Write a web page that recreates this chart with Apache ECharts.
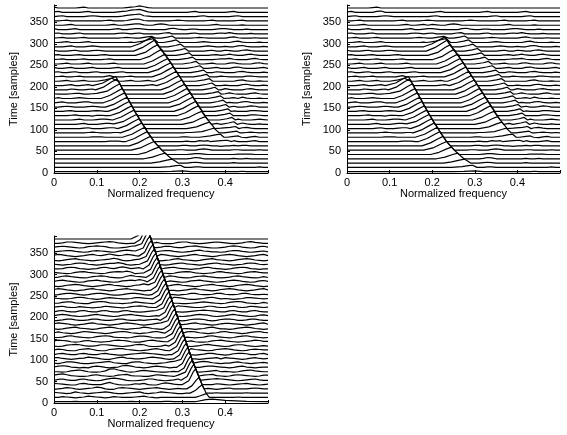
<!DOCTYPE html>
<html>
<head>
<meta charset="utf-8">
<script src="https://cdn.jsdelivr.net/npm/echarts@6/dist/echarts.min.js"></script>
<style>
  html, body { margin: 0; padding: 0; background: #fff; }
  #chart { width: 567px; height: 435px; }
</style>
</head>
<body>
<div id="chart"></div>
<script>
// trace baselines (samples), bottom to top
const traceStarts = [0, 10, 20, 30, 40, 50, 60, 70, 80, 90, 100, 110, 120, 130, 140, 150, 160, 170, 180, 190,
  200, 210, 220, 230, 240, 250, 260, 270, 280, 290, 300, 310, 320, 330, 340, 350, 360, 370, 380]
const xTicks = [0, 0.1, 0.2, 0.3, 0.4]
const yTicks = [0, 50, 100, 150, 200, 250, 300, 350]
const FREQ_STEP = 0.01

// background of each trace, one char per 0.01 of frequency (base 36, in samples above the baseline)
const noiseTop1 = [
  '3333333333 3333333333 3333333333 3333333333 3333433333 3',
  '3333333333 3333333333 3333333333 3334433333 3333333343 3',
  '3333333333 3333333333 3333333333 3345433333 3343333333 3',
  '3333333333 3333333333 3333333333 3346533333 3343343333 3',
  '3333333333 3333333333 3333333333 3345543333 3334444333 3',
  '3333333333 3333333333 3333333334 4333565333 3344333343 3',
  '3333333333 3333333333 3333333333 4433454332 3343443333 3',
  '3333333333 3334443333 3333333333 3433545332 3453334533 3',
  '3333333334 4433333333 3333333333 4433443323 3453324533 3',
  '3333333345 4333444333 3333333333 3443333354 3223345434 3',
  '3333333453 3345543333 3333333333 3344333454 3224564333 3',
  '3333334533 3455433333 3333333333 3434333453 2335643343 3',
  '3333345333 4554334333 3333333333 3343333332 3345333454 3',
  '3333453332 4433455333 3333333333 3333333333 3453335543 3',
  '3334533334 5433553333 3333333333 3333333333 3543335543 3',
  '3345433345 4335433333 3333333333 3333333333 3453346533 3',
  '3453334553 3354333333 3333333333 3333333333 5433564334 3',
  '3533345433 3543333333 3333333333 3333333333 3453643343 3',
  '4333455334 5433333333 3333333333 3333333333 4643335643 3',
  '3333543345 4333333333 3333333333 3333333333 6433356433 3',
  '3334533453 3333455333 3345333333 3333333333 4333564334 3',
  '3345334533 3334533453 3453333333 3333333333 3335643343 3',
  '3453345333 3345333453 3333333333 3333333335 4333355433 3',
  '4533453334 5333345333 3333333333 3333333354 3335643334 3',
  '5334533345 3333453333 3333333333 3333333453 3356433345 3',
  '3345333453 3334533333 3333333333 3333334533 3564333564 3',
  '3453334533 3345333333 3333333333 3333333345 5643335643 3',
  '4533345333 3453333333 3333333333 3333333453 4643356433 3',
  '5333453334 5433333333 3333333333 3333334533 5433564333 3',
  '3334533345 4333333333 3333333333 3333345433 4335643334 3',
  '3345333453 3333333345 4333333333 3333454333 3356433343 3',
  '3453334533 3333334543 3333333333 3334543333 3564333433 3',
  '4533345333 3333345434 5333333333 3345333345 4643334333 3',
  '5333453333 3333453345 5433333564 3344333345 5433343333 3',
  '3334533333 3334533456 6433565333 3333333453 3333433333 3',
  '3345333333 3345333467 7433333345 4333334533 3334533333 3',
  '3453333345 4333334678 9543333333 3333453333 3345333333 3',
  '4533333453 3333345689 a743333333 3345333333 3453333333 3',
  '5333334533 3333333456 8643333333 3333333333 3333333333 3'
]

const noiseTop2 = [
  '3333333333 3333333333 3333333333 3333333333 3333433333 3',
  '3333333333 3333333333 3333333333 3334433333 3333333343 3',
  '3333333333 3333333333 3333333333 3345433333 3343333333 3',
  '3333333333 3333333333 3333333333 3346533333 3343343333 3',
  '3333333333 3333333333 3333333333 3345543333 3334444333 3',
  '3333333333 3333333333 3333333334 4333565333 3344333343 3',
  '3333333333 3333333333 3333333333 4433454332 3343443333 3',
  '3333333333 3334443333 3333333333 3433545332 3453334533 3',
  '3333333334 4433333333 3333333333 4433443323 3453324533 3',
  '3333333345 4333444333 3333333333 3443333354 3223345434 3',
  '3333333453 3345543333 3333333333 3344333454 3224564333 3',
  '3333334533 3455433333 3333333333 3434333453 2335643343 3',
  '3333345333 4554334333 3333333333 3343333332 3345333454 3',
  '3333453332 4433455333 3333333333 3333333333 3453335543 3',
  '3334533334 5433553333 3333333333 3333333333 3543335543 3',
  '3345433345 4335433333 3333333333 3333333333 3453346533 3',
  '3453334553 3354333333 3333333333 3333333333 5433564334 3',
  '3533345433 3543333333 3333333333 3333333333 3453643343 3',
  '4333455334 5433333333 3333333333 3333333333 4643335643 3',
  '3333543345 4333333333 3333333333 3333333333 6433356433 3',
  '3334533453 3333455333 3345333333 3333333333 4333564334 3',
  '3345334533 3334533453 3453333333 3333333333 3335643343 3',
  '3453345333 3345333453 3333333333 3333333335 4333355433 3',
  '4533453334 5333345333 3333333333 3333333354 3335643334 3',
  '5334533345 3333453333 3333333333 3333333453 3356433345 3',
  '3345333453 3334533333 3333333333 3333334533 3564333564 3',
  '3453334533 3345333333 3333333333 3333333345 5643335643 3',
  '4533345333 3453333333 3333333333 3333333453 4643356433 3',
  '5333453334 5433333333 3333333333 3333334533 5433564333 3',
  '3334533345 4333333333 3333333333 3333345433 4335643334 3',
  '3345333453 3333333345 4333333333 3333454333 3356433343 3',
  '3453334533 3333334543 3333333333 3334543333 3564333433 3',
  '4533345333 3333345434 5333333333 3345333345 4643334333 3',
  '5333453333 3333453345 5433333564 3344333345 5433343333 3',
  '3334533333 3334533453 5433565333 3333333453 3333433333 3',
  '3345333333 3345333345 4333333345 4333334533 3334533333 3',
  '3453333345 4333333333 4533333333 3333453333 3345333333 3',
  '4533333563 3333333333 3453333333 3345333333 3453333333 3',
  '3333334533 3333333333 3333333333 3333333333 3333333333 3'
]

const noiseBottom = [
  '3333343333 3333333343 3333334433 3333333333 3333333333 3',
  '3354323465 4323543334 5643233333 3333333333 3334333333 3',
  '5432364323 4565322345 6323465432 2343333343 3333343333 3',
  '2346532345 7632256543 2345643234 3543454323 4533334543 3',
  '6543225643 3368532235 4632257643 3356323354 3234564323 4',
  '3564335643 2357875322 3466432346 6432345676 5432345643 3',
  '5786432235 6432356743 3224654325 6433256743 2356543235 5',
  '3323567532 2359a75323 5654322345 6643234563 4323567543 3',
  '4676432325 6532347864 3235654234 5643356654 3235643234 4',
  '3246653223 4567432256 6432234675 4325676432 3356432345 3',
  '6643234576 5322467543 3467653234 5653234563 6543235643 4',
  '3564335643 3564322345 6765432346 6432346643 2356653356 3',
  '4653225675 3225677543 2346753223 4675432356 7643235654 4',
  '3235676433 4665432346 7632235675 4323467543 2356643234 3',
  '5765323564 3234676532 2467543234 6753223567 5432345764 4',
  '3346754323 5676433235 6653223567 6432346754 3235675432 3',
  '4643235765 4323567643 2346753224 5676432346 7543235675 4',
  '3235675432 3567643234 5764325677 6432346753 3235676432 3',
  '5765323467 5432346765 3234676432 3467543235 6654323467 4',
  '2346643346 6433466433 4345676543 2356653235 6653346643 3',
  '4676432346 7543235675 4323467643 2346765323 4675432356 4',
  '3564335643 3564335643 2345676543 2345676543 3564335643 3',
  '4564335432 3465432356 7643223567 6543346643 3564346543 4',
  '3356643225 6764332346 5432467653 2234565432 3567643235 3',
  '5433467643 2356543346 6543235676 5322346753 4323466543 4',
  '2356653235 6653223566 5323566532 3466433466 4334664334 3',
  '5764323467 5432356754 3235676432 3467543235 6764323467 4',
  '3235676432 3467543235 6864323467 5432356754 3235676432 3',
  '4675432356 7543235676 8633467543 2356754323 4676432356 4',
  '3467543235 6764323686 5432356764 3235675432 3467543235 3',
  '5432356754 3235676862 3467543235 6764323467 5432356754 4',
  '3346764323 4675468645 6543235675 4323467543 2356764323 3',
  '4323467643 2356686323 4676432356 7543235675 4323467643 4',
  '3235675432 3456863235 6764323467 5432356754 3235676432 3',
  '5764323467 5468645764 3235676432 3467543235 6764323467 4',
  '3456643235 6543246765 4323356643 2346754332 3566432345 3',
  '4565432356 7653223467 5432346643 3567543223 4676432356 4',
  '3346654323 4567643234 5676532235 6643234565 4323467543 3',
  '3333333333 3333333333 3333333333 3333333333 3333333333 3'
]

// chirp peaks: [baseline, f, value, f, value, ...]
const ridgeA = [
  [0, .245, 3, .275, 4, .30, 5, .32, 3],
  [10, .245, 3, .27, 5, .285, 7, .295, 8, .305, 3],
  [20, .226, 3, .246, 6, .264, 10, .276, 12, .284, 7.5, .288, 3],
  [30, .21, 3, .23, 7, .248, 13, .26, 16, .267, 9.5, .2745, 3],
  [40, .196, 3, .216, 8, .234, 16, .2455, 20, .2535, 11.5, .263, 3],
  [50, .184, 3, .204, 9, .222, 18, .234, 23, .243, 13, .252, 3],
  [60, .176, 3, .196, 10, .214, 19.5, .2255, 25, .233, 14, .2425, 3],
  [70, .168, 3, .188, 10, .206, 20, .218, 26, .226, 14.5, .234, 3],
  [80, .162, 3, .182, 10, .200, 20, .212, 26, .219, 14.5, .227, 3],
  [90, .155, 3, .175, 10, .193, 20, .205, 26, .213, 14.5, .220, 3],
  [100, .149, 3, .169, 10, .187, 20, .199, 26, .206, 14.5, .214, 3],
  [110, .143, 3, .163, 10, .181, 20, .193, 26, .200, 14.5, .207, 3],
  [120, .137, 3, .157, 10, .175, 20, .187, 26, .194, 14.5, .201, 3],
  [130, .132, 3, .152, 10, .170, 20, .182, 26, .188, 14.5, .195, 3],
  [140, .126, 3, .146, 10, .164, 20, .176, 26, .1825, 14.5, .189, 3],
  [150, .121, 3, .141, 10, .159, 20, .171, 26, .177, 14.5, .183, 3],
  [160, .115, 3, .135, 10, .153, 20, .165, 26, .1715, 14.5, .178, 3],
  [170, .110, 3, .130, 10, .148, 20, .160, 26, .166, 14.5, .172, 3],
  [180, .104, 3, .124, 10, .142, 21, .154, 27, .160, 15, .167, 3],
  [190, .097, 3, .117, 10, .135, 22, .147, 28, .1545, 15.5, .161, 3],
  [200, .094, 3, .114, 9, .132, 19, .144, 24, .150, 13.5, .156, 3],
  [210, .10, 3, .12, 6, .135, 10, .145, 5, .152, 3],
  [220, .115, 3, .13, 6, .14, 3]
]

const ridgeB = [
  [70, .365, 3, .39, 5, .405, 6, .415, 3],
  [80, .34, 3, .365, 6, .38, 9, .389, 10, .397, 3],
  [90, .324, 3, .346, 6, .363, 11, .374, 14, .38, 8.5, .386, 3],
  [100, .313, 3, .333, 7, .351, 14, .363, 18, .37, 10.5, .376, 3],
  [110, .304, 3, .324, 8, .342, 16.5, .354, 21, .3605, 12, .368, 3],
  [120, .295, 3, .315, 9, .333, 18, .345, 23, .352, 13, .36, 3],
  [130, .287, 3, .307, 10, .325, 20, .337, 26, .345, 14.5, .353, 3],
  [140, .281, 3, .301, 10, .319, 20, .331, 26, .339, 14.5, .347, 3],
  [150, .274, 3, .294, 10, .312, 20, .324, 26, .332, 14.5, .340, 3],
  [160, .268, 3, .288, 10, .306, 20, .318, 26, .326, 14.5, .334, 3],
  [170, .261, 3, .281, 10, .299, 20, .311, 26, .319, 14.5, .327, 3],
  [180, .255, 3, .275, 10, .293, 20, .305, 26, .313, 14.5, .321, 3],
  [190, .249, 3, .269, 10, .287, 20, .299, 26, .306, 14.5, .314, 3],
  [200, .242, 3, .262, 10, .280, 20, .292, 26, .2995, 14.5, .307, 3],
  [210, .236, 3, .256, 10, .274, 20, .286, 26, .293, 14.5, .3005, 3],
  [220, .229, 3, .249, 10, .267, 20, .279, 26, .2865, 14.5, .294, 3],
  [230, .223, 3, .243, 10, .261, 20, .273, 26, .280, 14.5, .2875, 3],
  [240, .216, 3, .236, 10, .254, 20, .266, 26, .2735, 14.5, .281, 3],
  [250, .210, 3, .230, 10, .248, 20, .260, 26, .267, 14.5, .2745, 3],
  [260, .202, 3, .222, 10, .240, 21, .2515, 27, .259, 15, .267, 3],
  [270, .193, 3, .213, 10, .231, 22, .243, 28, .2515, 15.5, .2595, 3],
  [280, .186, 3, .206, 11, .224, 22, .2355, 29, .2435, 16, .252, 3],
  [290, .180, 3, .200, 10, .218, 20, .230, 26, .237, 14.5, .2445, 3],
  [300, .188, 3, .208, 6, .223, 10, .233, 12, .243, 3],
  [310, .203, 3, .218, 6, .228, 7, .238, 3]
]

const ridgeC = [
  [80, .405, 3, .42, 5, .4305, 6, .438, 3],
  [90, .397, 3, .415, 5.5, .427, 7, .435, 3],
  [100, .394, 3, .412, 6, .4237, 8, .432, 3],
  [110, .39, 3, .408, 6, .42, 9, .428, 3],
  [120, .386, 3, .404, 6, .416, 9, .424, 3],
  [130, .381, 3, .399, 6, .411, 9, .419, 3],
  [140, .376, 3, .394, 6, .406, 9, .414, 3],
  [150, .371, 3, .389, 6, .401, 9, .409, 3],
  [160, .365, 3, .383, 6, .395, 9, .403, 3],
  [170, .359, 3, .377, 6, .389, 9, .397, 3],
  [180, .353, 3, .371, 6, .383, 9, .391, 3],
  [190, .346, 3, .364, 6, .376, 9, .384, 3],
  [200, .339, 3, .357, 6, .369, 9, .377, 3],
  [210, .333, 3, .351, 6, .363, 9, .371, 3],
  [220, .326, 3, .344, 6, .356, 9, .364, 3],
  [230, .319, 3, .337, 6, .349, 9, .357, 3],
  [240, .31, 3, .328, 6, .3405, 9, .349, 3],
  [250, .302, 3, .32, 6, .332, 9, .34, 3],
  [260, .294, 3, .312, 6, .3236, 9, .332, 3],
  [270, .285, 3, .303, 6, .315, 9, .323, 3],
  [280, .276, 3, .294, 6, .306, 9, .314, 3],
  [290, .266, 3, .284, 6, .2957, 9, .304, 3],
  [300, .256, 3, .274, 6, .2855, 9, .294, 3],
  [310, .25, 3, .265, 5.5, .276, 8, .284, 3],
  [320, .245, 3, .258, 5, .268, 6, .276, 3]
]

const ridgeD = [
  [0, .33, 3, .355, 8, .37, 9, .40, 6, .45, 4, .5, 3],
  [10, .33, 3, .342, 7, .356, 12, .363, 3],
  [20, .318, 3, .33, 9, .34, 18, .346, 22, .351, 12.5, .3555, 3],
  [30, .31, 3, .322, 10, .333, 24, .339, 30, .3445, 16.5, .3505, 3],
  [40, .301, 3, .315, 12, .325, 32, .331, 40, .3385, 21.5, .346, 3],
  [50, .297, 3, .311, 12, .321, 32, .327, 40, .3345, 21.5, .342, 3],
  [60, .293, 3, .307, 12, .317, 32, .323, 40, .3305, 21.5, .338, 3],
  [70, .290, 3, .304, 12, .314, 32, .3196, 40, .3264, 21.5, .3338, 3],
  [80, .286, 3, .300, 12, .310, 32, .3162, 40, .3225, 21.5, .3298, 3],
  [90, .283, 3, .297, 12, .307, 32, .3128, 40, .3191, 21.5, .3258, 3],
  [100, .2794, 3, .2934, 12, .3034, 32, .3094, 40, .3157, 21.5, .322, 3],
  [110, .276, 3, .29, 12, .30, 32, .306, 40, .3123, 21.5, .3186, 3],
  [120, .2726, 3, .2866, 12, .2966, 32, .3026, 40, .3089, 21.5, .3152, 3],
  [130, .2692, 3, .2832, 12, .2932, 32, .2992, 40, .3055, 21.5, .3118, 3],
  [140, .2658, 3, .2798, 12, .2898, 32, .2958, 40, .3021, 21.5, .3084, 3],
  [150, .2624, 3, .2764, 12, .2864, 32, .2924, 40, .2987, 21.5, .305, 3],
  [160, .259, 3, .273, 12, .283, 32, .289, 40, .2953, 21.5, .3016, 3],
  [170, .2556, 3, .2696, 12, .2796, 32, .2856, 40, .2919, 21.5, .2982, 3],
  [180, .2522, 3, .2662, 12, .2762, 32, .2822, 40, .2885, 21.5, .2948, 3],
  [190, .2488, 3, .2628, 12, .2728, 32, .2788, 40, .2851, 21.5, .2914, 3],
  [200, .2454, 3, .2594, 12, .2694, 32, .2754, 40, .2817, 21.5, .288, 3],
  [210, .242, 3, .256, 12, .266, 32, .272, 40, .2783, 21.5, .2846, 3],
  [220, .2386, 3, .2526, 12, .2626, 32, .2686, 40, .2749, 21.5, .2812, 3],
  [230, .2352, 3, .2492, 12, .2592, 32, .2652, 40, .2715, 21.5, .2778, 3],
  [240, .2318, 3, .2458, 12, .2558, 32, .2618, 40, .2681, 21.5, .2744, 3],
  [250, .2284, 3, .2424, 12, .2524, 32, .2584, 40, .2647, 21.5, .271, 3],
  [260, .225, 3, .239, 12, .249, 32, .255, 40, .2613, 21.5, .2676, 3],
  [270, .2216, 3, .2356, 12, .2456, 32, .2516, 40, .2579, 21.5, .2642, 3],
  [280, .2182, 3, .2322, 12, .2422, 32, .2482, 40, .2545, 21.5, .2608, 3],
  [290, .2148, 3, .2288, 12, .2388, 32, .2448, 40, .2511, 21.5, .2574, 3],
  [300, .2114, 3, .2254, 12, .2354, 32, .2414, 40, .2477, 21.5, .254, 3],
  [310, .208, 3, .222, 12, .232, 32, .238, 40, .2443, 21.5, .2506, 3],
  [320, .2046, 3, .2186, 12, .2286, 32, .2346, 40, .2409, 21.5, .2472, 3],
  [330, .2012, 3, .2152, 12, .2252, 32, .2312, 40, .2375, 21.5, .2438, 3],
  [340, .1978, 3, .2118, 12, .2218, 32, .2278, 40, .2341, 21.5, .2404, 3],
  [350, .1944, 3, .2084, 12, .2184, 32, .2244, 40, .2307, 21.5, .237, 3],
  [360, .191, 3, .205, 12, .215, 32, .221, 40, .2273, 21.5, .2336, 3],
  [370, .1876, 3, .2016, 12, .2116, 32, .2176, 40, .2239, 21.5, .2302, 3],
  [380, .1842, 3, .1982, 12, .2082, 32, .2142, 40, .2205, 21.5, .2268, 3]
]

const panels = [
  { noise: noiseTop1, ridges: [ridgeA, ridgeB, ridgeC] },
  { noise: noiseTop2, ridges: [ridgeA, ridgeB, ridgeC] },
  { noise: noiseBottom, ridges: [ridgeD] }
]

// one trace: background points, with each chirp peak laid over its own span
function buildTrace(noise, ridges, base) {
  let pts = noise.replace(/\s/g, '').split('').map((c, k) => [Math.round(k * FREQ_STEP * 100) / 100, parseInt(c, 36)])
  ridges.forEach(rows => {
    rows.filter(r => r[0] === base).forEach(r => {
      const knots = []
      for (let i = 1; i < r.length; i += 2) knots.push([r[i], r[i + 1]])
      const lo = knots[0][0], hi = knots[knots.length - 1][0]
      pts = pts.filter(p => p[0] < lo || p[0] > hi).concat(knots)
    })
  })
  pts.sort((a, b) => a[0] - b[0])
  return pts.map(p => [p[0], base + p[1]])
}

const font = { fontFamily: 'Liberation Sans, Arial, sans-serif', fontSize: 11, color: '#000' }
const axisLine = { show: true, lineStyle: { color: '#000', width: 1 } }

const grids = [
  { left: 54, top: 5, width: 214, height: 168 },
  { left: 347, top: 5, width: 213, height: 168 },
  { left: 54, top: 236, width: 214, height: 167 }
]

const xAxes = grids.map((g, i) => ({
  type: 'value', gridIndex: i, min: 0, max: 0.5, interval: 0.1,
  name: 'Normalized frequency', nameLocation: 'middle', nameGap: 15,
  nameTextStyle: font,
  axisLine, splitLine: { show: false },
  axisTick: { show: true, inside: true, length: 3, lineStyle: { color: '#000' } },
  axisLabel: {
    ...font, margin: 4,
    formatter: v => xTicks.some(t => Math.abs(t - v) < 1e-9) ? String(+v.toFixed(1)) : ''
  }
}))

const yAxes = grids.map((g, i) => ({
  type: 'value', gridIndex: i, min: 0, max: 390, interval: 50,
  name: 'Time [samples]', nameLocation: 'middle', nameGap: 35,
  nameTextStyle: font,
  axisLine, splitLine: { show: false },
  axisTick: { show: true, inside: true, length: 3, lineStyle: { color: '#000' } },
  axisLabel: { ...font, margin: 6, formatter: v => yTicks.includes(v) ? String(v) : '' }
}))

const series = []
panels.forEach((p, pi) => {
  traceStarts.forEach((base, ti) => {
    series.push({
      type: 'line', xAxisIndex: pi, yAxisIndex: pi,
      data: buildTrace(p.noise[ti], p.ridges, base),
      showSymbol: false, symbol: 'none', silent: true, clip: true,
      lineStyle: { color: '#000', width: 1.2 },
      z: 2
    })
  })
})

const chart = echarts.init(document.getElementById('chart'))
chart.setOption({
  animation: false,
  backgroundColor: '#fff',
  grid: grids,
  xAxis: xAxes,
  yAxis: yAxes,
  series
})
</script>
</body>
</html>
